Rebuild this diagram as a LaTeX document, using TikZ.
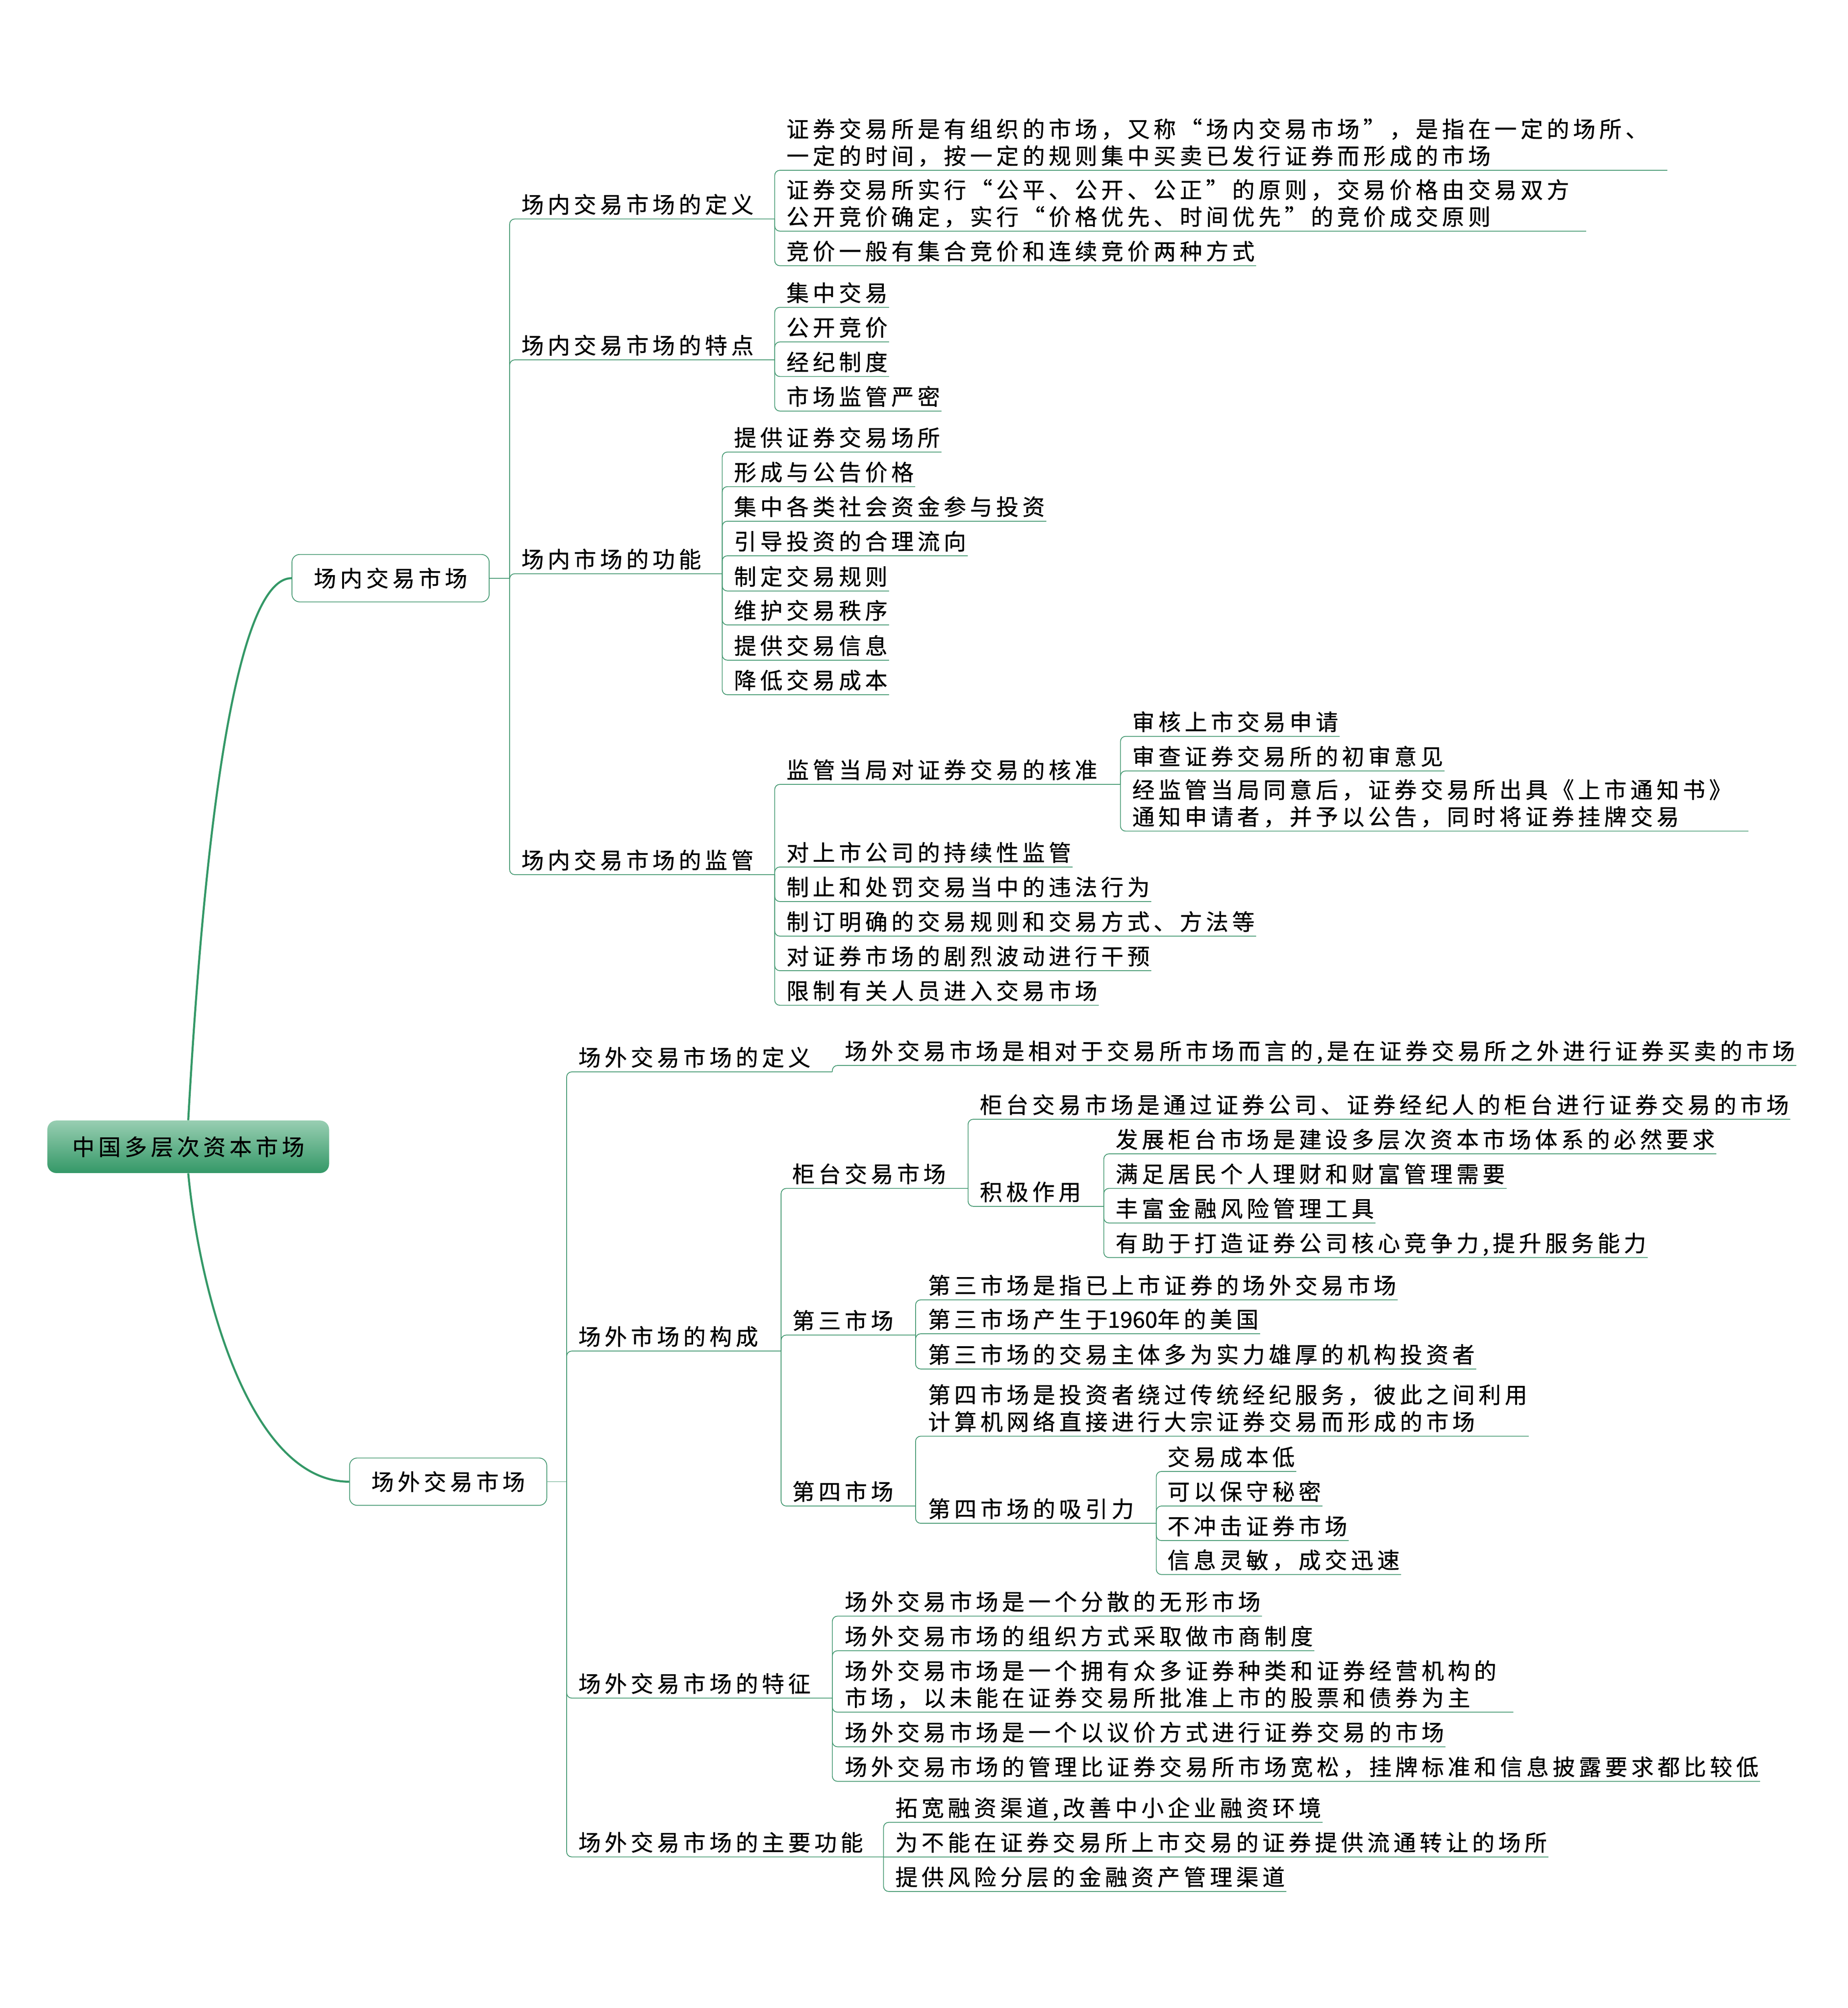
\documentclass[tikz,border=0pt]{standalone}
\usepackage{fontspec}
\newfontfamily\mapfont[LetterSpace=17,FakeBold=0.6]{Noto Sans CJK SC}
\newfontfamily\digitfont[FakeBold=0.6]{Noto Sans CJK SC}
\definecolor{mapline}{RGB}{64,150,110}
\definecolor{rootgreen}{RGB}{52,152,103}
\definecolor{roottop}{RGB}{152,206,178}
\newcommand\mapsize{\fontsize{17.5}{20.5}\selectfont}
\newcommand\twoline[3][0pt]{\begin{tabular}[b]{@{}l@{\hspace{#1}}}#2\\#3\end{tabular}}
\begin{document}
\begin{tikzpicture}[x=1pt,y=-1pt,leaf/.style={anchor=south west,inner xsep=1pt,inner ysep=0pt,text depth=4.5pt,font=\mapfont\mapsize},hub/.style={draw=mapline,line width=0.6pt,rounded corners=6pt,fill=white,minimum width=154pt,minimum height=37pt,inner sep=0pt,font=\mapfont\mapsize},rootbox/.style={rounded corners=7pt,top color=roottop,middle color=rootgreen,bottom color=rootgreen,minimum width=220pt,minimum height=41pt,inner sep=0pt,font=\mapfont\mapsize},link/.style={draw=mapline,line width=0.6pt,rounded corners=4pt},trunk/.style={draw=rootgreen,line width=1.6pt}]
\useasboundingbox (0,0) rectangle (1443,1568);

\node[rootbox] (root) at (147,895.5) {中国多层次资本市场};
\node[hub] (inmkt) at (305,451.5) {场内交易市场};
\node[hub] (outmkt) at (350,1157) {场外交易市场};
\draw[trunk] (root.north) .. controls (160,640) and (185,451.5) .. (inmkt.west);
\draw[trunk] (root.south) .. controls (156,1010) and (195,1157) .. (outmkt.west);

\coordinate (inJ) at (398,451.5);
\draw[link] (inmkt.east) -- (inJ);
\coordinate (outJ) at (442.5,1157);
\draw[link] (outmkt.east) -- (outJ);

\node[leaf] (inDef) at (406,171) {场内交易市场的定义};
\coordinate (inDefJ) at (605,171);
\draw[link] (inJ) |- (inDefJ);
\node[leaf] (inDefA) at (613,133) {\twoline[14pt]{证券交易所是有组织的市场，又称“场内交易市场”，是指在一定的场所、}{一定的时间，按一定的规则集中买卖已发行证券而形成的市场}};
\draw[link] (inDefJ) |- (inDefA.south east);
\node[leaf] (inDefB) at (613,180.5) {\twoline[12pt]{证券交易所实行“公平、公开、公正”的原则，交易价格由交易双方}{公开竞价确定，实行“价格优先、时间优先”的竞价成交原则}};
\draw[link] (inDefJ) |- (inDefB.south east);
\node[leaf] (inDefC) at (613,207.5) {竞价一般有集合竞价和连续竞价两种方式};
\draw[link] (inDefJ) |- (inDefC.south east);

\node[leaf] (inFeat) at (406,281) {场内交易市场的特点};
\coordinate (inFeatJ) at (605,281);
\draw[link] (inJ) |- (inFeatJ);
\node[leaf] (inFeatA) at (613,240) {集中交易};
\draw[link] (inFeatJ) |- (inFeatA.south east);
\node[leaf] (inFeatB) at (613,267) {公开竞价};
\draw[link] (inFeatJ) |- (inFeatB.south east);
\node[leaf] (inFeatC) at (613,294) {经纪制度};
\draw[link] (inFeatJ) |- (inFeatC.south east);
\node[leaf] (inFeatD) at (613,321) {市场监管严密};
\draw[link] (inFeatJ) |- (inFeatD.south east);

\node[leaf] (inFunc) at (406,448) {场内市场的功能};
\coordinate (inFuncJ) at (564,448);
\draw[link] (inJ) |- (inFuncJ);
\node[leaf] (inFuncA) at (572,353) {提供证券交易场所};
\draw[link] (inFuncJ) |- (inFuncA.south east);
\node[leaf] (inFuncB) at (572,380) {形成与公告价格};
\draw[link] (inFuncJ) |- (inFuncB.south east);
\node[leaf] (inFuncC) at (572,407) {集中各类社会资金参与投资};
\draw[link] (inFuncJ) |- (inFuncC.south east);
\node[leaf] (inFuncD) at (572,434) {引导投资的合理流向};
\draw[link] (inFuncJ) |- (inFuncD.south east);
\node[leaf] (inFuncE) at (572,461.5) {制定交易规则};
\draw[link] (inFuncJ) |- (inFuncE.south east);
\node[leaf] (inFuncF) at (572,488) {维护交易秩序};
\draw[link] (inFuncJ) |- (inFuncF.south east);
\node[leaf] (inFuncG) at (572,515.5) {提供交易信息};
\draw[link] (inFuncJ) |- (inFuncG.south east);
\node[leaf] (inFuncH) at (572,542.5) {降低交易成本};
\draw[link] (inFuncJ) |- (inFuncH.south east);

\node[leaf] (inReg) at (406,683) {场内交易市场的监管};
\coordinate (inRegJ) at (605,683);
\draw[link] (inJ) |- (inRegJ);
\node[leaf] (inRegA) at (613,612.5) {监管当局对证券交易的核准};
\coordinate (inRegAJ) at (875,612.5);
\draw[link] (inRegJ) |- (inRegAJ);
\node[leaf] (inRegA1) at (883,575) {审核上市交易申请};
\draw[link] (inRegAJ) |- (inRegA1.south east);
\node[leaf] (inRegA2) at (883,602) {审查证券交易所的初审意见};
\draw[link] (inRegAJ) |- (inRegA2.south east);
\node[leaf] (inRegA3) at (883,649) {\twoline[12pt]{经监管当局同意后，证券交易所出具《上市通知书》}{通知申请者，并予以公告，同时将证券挂牌交易}};
\draw[link] (inRegAJ) |- (inRegA3.south east);
\node[leaf] (inRegB) at (613,677) {对上市公司的持续性监管};
\draw[link] (inRegJ) |- (inRegB.south east);
\node[leaf] (inRegC) at (613,704) {制止和处罚交易当中的违法行为};
\draw[link] (inRegJ) |- (inRegC.south east);
\node[leaf] (inRegD) at (613,731) {制订明确的交易规则和交易方式、方法等};
\draw[link] (inRegJ) |- (inRegD.south east);
\node[leaf] (inRegE) at (613,758) {对证券市场的剧烈波动进行干预};
\draw[link] (inRegJ) |- (inRegE.south east);
\node[leaf] (inRegF) at (613,785) {限制有关人员进入交易市场};
\draw[link] (inRegJ) |- (inRegF.south east);

\node[leaf] (outDef) at (450.5,837) {场外交易市场的定义};
\coordinate (outDefJ) at (650,837);
\draw[link] (outJ) |- (outDefJ);
\node[leaf] (outDefA) at (658.5,832) {场外交易市场是相对于交易所市场而言的,是在证券交易所之外进行证券买卖的市场};
\draw[link] (outDefJ) |- (outDefA.south east);

\node[leaf] (outForm) at (450.5,1055) {场外市场的构成};
\coordinate (outFormJ) at (610,1055);
\draw[link] (outJ) |- (outFormJ);

\node[leaf] (counter) at (617.5,928) {柜台交易市场};
\coordinate (counterJ) at (756,928);
\draw[link] (outFormJ) |- (counterJ);
\node[leaf] (counterA) at (764,874) {柜台交易市场是通过证券公司、证券经纪人的柜台进行证券交易的市场};
\draw[link] (counterJ) |- (counterA.south east);
\node[leaf] (counterB) at (764,942) {积极作用};
\coordinate (counterBJ) at (862,942);
\draw[link] (counterJ) |- (counterBJ);
\node[leaf] (counterB1) at (870,901) {发展柜台市场是建设多层次资本市场体系的必然要求};
\draw[link] (counterBJ) |- (counterB1.south east);
\node[leaf] (counterB2) at (870,928) {满足居民个人理财和财富管理需要};
\draw[link] (counterBJ) |- (counterB2.south east);
\node[leaf] (counterB3) at (870,955) {丰富金融风险管理工具};
\draw[link] (counterBJ) |- (counterB3.south east);
\node[leaf] (counterB4) at (870,982) {有助于打造证券公司核心竞争力,提升服务能力};
\draw[link] (counterBJ) |- (counterB4.south east);

\node[leaf] (third) at (617.5,1042.5) {第三市场};
\coordinate (thirdJ) at (715,1042.5);
\draw[link] (outFormJ) |- (thirdJ);
\node[leaf] (thirdA) at (723.5,1015) {第三市场是指已上市证券的场外交易市场};
\draw[link] (thirdJ) |- (thirdA.south east);
\node[leaf] (thirdB) at (723.5,1041.5) {第三市场产生于{\digitfont 1960}年的美国};
\draw[link] (thirdJ) |- (thirdB.south east);
\node[leaf] (thirdC) at (723.5,1069) {第三市场的交易主体多为实力雄厚的机构投资者};
\draw[link] (thirdJ) |- (thirdC.south east);

\node[leaf] (fourth) at (617.5,1176) {第四市场};
\coordinate (fourthJ) at (715,1176);
\draw[link] (outFormJ) |- (fourthJ);
\node[leaf] (fourthA) at (723.5,1121.5) {\twoline{第四市场是投资者绕过传统经纪服务，彼此之间利用}{计算机网络直接进行大宗证券交易而形成的市场}};
\draw[link] (fourthJ) |- (fourthA.south east);
\node[leaf] (fourthB) at (723.5,1189.5) {第四市场的吸引力};
\coordinate (fourthBJ) at (903,1189.5);
\draw[link] (fourthJ) |- (fourthBJ);
\node[leaf] (fourthB1) at (910.5,1149) {交易成本低};
\draw[link] (fourthBJ) |- (fourthB1.south east);
\node[leaf] (fourthB2) at (910.5,1176) {可以保守秘密};
\draw[link] (fourthBJ) |- (fourthB2.south east);
\node[leaf] (fourthB3) at (910.5,1203) {不冲击证券市场};
\draw[link] (fourthBJ) |- (fourthB3.south east);
\node[leaf] (fourthB4) at (910.5,1229.5) {信息灵敏，成交迅速};
\draw[link] (fourthBJ) |- (fourthB4.south east);

\node[leaf] (outTrait) at (450.5,1326) {场外交易市场的特征};
\coordinate (outTraitJ) at (650,1326);
\draw[link] (outJ) |- (outTraitJ);
\node[leaf] (outTraitA) at (658.5,1262) {场外交易市场是一个分散的无形市场};
\draw[link] (outTraitJ) |- (outTraitA.south east);
\node[leaf] (outTraitB) at (658.5,1289) {场外交易市场的组织方式采取做市商制度};
\draw[link] (outTraitJ) |- (outTraitB.south east);
\node[leaf] (outTraitC) at (658.5,1337) {\twoline[12pt]{场外交易市场是一个拥有众多证券种类和证券经营机构的}{市场，以未能在证券交易所批准上市的股票和债券为主}};
\draw[link] (outTraitJ) |- (outTraitC.south east);
\node[leaf] (outTraitD) at (658.5,1364) {场外交易市场是一个以议价方式进行证券交易的市场};
\draw[link] (outTraitJ) |- (outTraitD.south east);
\node[leaf] (outTraitE) at (658.5,1391) {场外交易市场的管理比证券交易所市场宽松，挂牌标准和信息披露要求都比较低};
\draw[link] (outTraitJ) |- (outTraitE.south east);

\node[leaf] (outFunc) at (450.5,1450) {场外交易市场的主要功能};
\coordinate (outFuncJ) at (690,1450);
\draw[link] (outJ) |- (outFuncJ);
\node[leaf] (outFuncA) at (698,1423) {拓宽融资渠道,改善中小企业融资环境};
\draw[link] (outFuncJ) |- (outFuncA.south east);
\node[leaf] (outFuncB) at (698,1450) {为不能在证券交易所上市交易的证券提供流通转让的场所};
\draw[link] (outFuncJ) -- (outFuncB.south east);
\node[leaf] (outFuncC) at (698,1477) {提供风险分层的金融资产管理渠道};
\draw[link] (outFuncJ) |- (outFuncC.south east);
\end{tikzpicture}
\end{document}
